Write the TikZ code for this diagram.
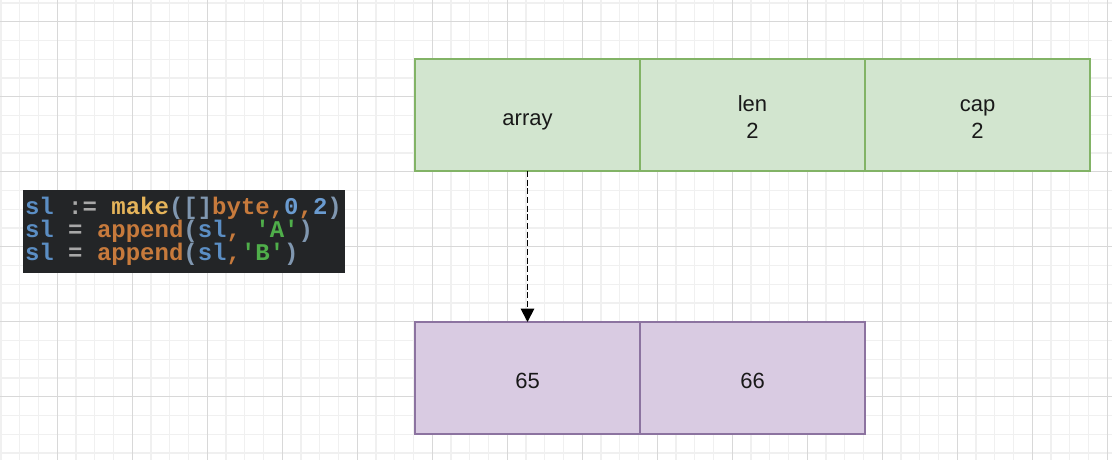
\documentclass[tikz,border=0pt]{standalone}
\usepackage{fontspec}
\setmainfont{Liberation Sans}
\setmonofont{Liberation Mono}
\usetikzlibrary{positioning,arrows.meta}
\definecolor{gfill}{HTML}{D2E5CF}
\definecolor{gline}{HTML}{82B366}
\definecolor{pfill}{HTML}{D9CBE2}
\definecolor{pline}{HTML}{8C73A0}
\definecolor{minorgrid}{HTML}{F0F0F0}
\definecolor{majorgrid}{HTML}{D8D8D8}
\definecolor{codebg}{HTML}{232527}
\definecolor{cvar}{HTML}{5B8EC4}
\definecolor{cop}{HTML}{A8A8A8}
\definecolor{cfun}{HTML}{E5B45A}
\definecolor{ckey}{HTML}{C77A3C}
\definecolor{cpar}{HTML}{8097B0}
\definecolor{cnum}{HTML}{6A9BD0}
\definecolor{cstr}{HTML}{4FAE4A}
\newcommand{\cv}[1]{\textcolor{cvar}{#1}}
\newcommand{\co}[1]{\textcolor{cop}{#1}}
\newcommand{\ck}[1]{\textcolor{ckey}{#1}}
\newcommand{\cp}[1]{\textcolor{cpar}{#1}}
\newcommand{\cn}[1]{\textcolor{cnum}{#1}}
\newcommand{\cs}[1]{\textcolor{cstr}{#1}}
\newcommand{\csp}{\hspace*{0.6em}}
\newcommand{\celltext}[1]{\begin{tabular}{@{}c@{}}#1\end{tabular}}
\begin{document}
\begin{tikzpicture}[x=0.75pt,y=-0.75pt,
  cell/.style={draw, line width=1pt, minimum width=168.75pt, minimum height=84pt,
    outer sep=0pt, inner sep=0pt, text=black!90, text height=16pt, text depth=0pt,
    font=\fontsize{16.5}{20.25}\selectfont},
  slice/.style={cell, fill=gfill, draw=gline},
  backing/.style={cell, fill=pfill, draw=pline},
  codebox/.style={fill=codebg, minimum width=241.5pt, minimum height=62.25pt,
    text width=238.5pt, inner xsep=1.5pt, inner ysep=0pt, align=left,
    font=\ttfamily\bfseries\fontsize{18}{17.25}\selectfont}]
\useasboundingbox (0,0) rectangle (1112,460);
\fill[white] (0,0) rectangle (1112,460);
% grid
\foreach \k in {0,...,59}
  \draw[minorgrid, line width=0.9pt] ({1.05+18.75*\k},0) -- ({1.05+18.75*\k},460);
\foreach \k in {0,...,24}
  \draw[minorgrid, line width=0.9pt] (0,{2.95+18.75*\k}) -- (1112,{2.95+18.75*\k});
\foreach \k in {0,...,14}
  \draw[majorgrid, line width=0.9pt] ({57.3+75*\k},0) -- ({57.3+75*\k},460);
\foreach \k in {0,...,5}
  \draw[majorgrid, line width=0.9pt] (0,{21.7+75*\k}) -- (1112,{21.7+75*\k});
% slice header
\node[slice] (arr) at (527.5,115) {\celltext{array}};
\node[slice, right=0pt of arr] (len) {\celltext{len\\2}};
\node[slice, right=0pt of len] (cap) {\celltext{cap\\2}};
% backing array
\node[backing] (v65) at (527.5,378) {\celltext{65}};
\node[backing, right=0pt of v65] (v66) {\celltext{66}};
\draw[dash pattern=on 4.5pt off 2pt, line width=1.4pt, -{Triangle[length=10pt,width=10pt]}] (arr.south) -- (v65.north);
% code
\node[codebox] (code) at (184,231.5)
  {\cv{sl}\csp\co{:=}\csp\textcolor{cfun}{make}\cp{([]}\ck{byte,}\cn{0}\ck{,}\cn{2}\cp{)}\\
   \cv{sl}\csp\co{=}\csp\ck{append}\cp{(}\cv{sl}\ck{,}\csp\cs{'A'}\cp{)}\\
   \cv{sl}\csp\co{=}\csp\ck{append}\cp{(}\cv{sl}\ck{,}\cs{'B'}\cp{)}};
\end{tikzpicture}
\end{document}
